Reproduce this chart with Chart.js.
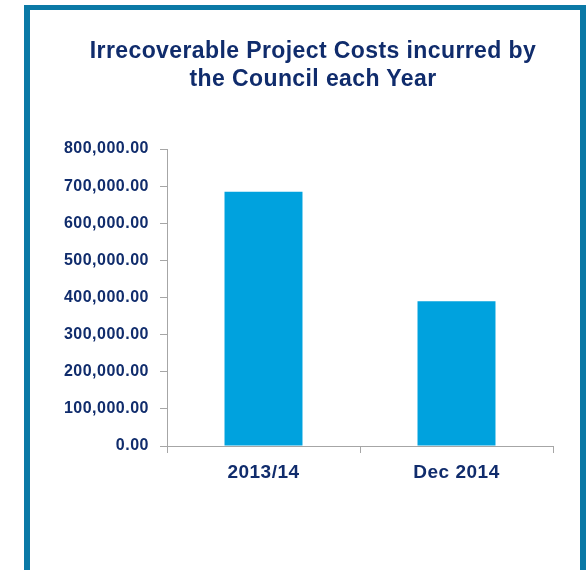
<!DOCTYPE html>
<html>
<head>
<meta charset="utf-8">
<script src="https://cdn.jsdelivr.net/npm/chart.js@4"></script>
<style>
  body { margin: 0; background: #fff; }
  #frame {
    position: absolute; left: 24px; top: 5px;
    width: 562px; height: 600px;
    box-sizing: border-box;
    border: 6px solid #0b79a6; border-top-width: 5px;
  }
  #costChart { position: absolute; left: 0; top: 0; }
  #title {
    position: absolute; left: 73px; top: 37px; width: 480px;
    text-align: center;
    font: bold 23px/27.5px 'Liberation Sans', Arial, sans-serif;
    letter-spacing: 0.4px;
    color: #102c6c;
  }
</style>
</head>
<body>
<div id="frame"></div>
<canvas id="costChart" width="588" height="570"></canvas>
<div id="title">Irrecoverable Project Costs incurred by<br>the Council each Year</div>
<script>
var categories = ['2013/14', 'Dec 2014'];
var costValues = [685000, 390000];
var yTickValues = [0, 100000, 200000, 300000, 400000, 500000, 600000, 700000, 800000];

var navy = '#102c6c';
var axisGrey = '#a6a6a6';

// the reference text looks slightly stretched, a little letter spacing helps
var spacing = {
  id: 'spacing',
  beforeLayout: function (c) { c.ctx.letterSpacing = '0.5px'; },
  beforeDraw: function (c) { c.ctx.letterSpacing = '0.5px'; }
};

var costCtx = document.getElementById('costChart').getContext('2d');
var costChart = new Chart(costCtx, {
  type: 'bar',
  data: {
    labels: categories,
    datasets: [{
      label: 'Irrecoverable Project Costs',
      data: costValues,
      backgroundColor: '#00a2de',
      borderWidth: 0,
      categoryPercentage: 1,
      barPercentage: 0.404
    }]
  },
  options: {
    responsive: false,
    animation: false,
    layout: {
      padding: { left: 40, right: 35, top: 149, bottom: 74 }
    },
    plugins: {
      legend: { display: false },
      tooltip: { enabled: false },
      title: { display: false }
    },
    scales: {
      x: {
        grid: { drawOnChartArea: false, tickLength: 7, color: axisGrey, offset: true },
        border: { color: axisGrey },
        ticks: {
          color: navy,
          padding: 8,
          font: { family: 'Liberation Sans', size: 19, weight: 'bold' }
        },
        afterFit: function (s) { s.height = 50; }
      },
      y: {
        min: 0,
        max: 800000,
        afterBuildTicks: function (s) {
          s.ticks = yTickValues.map(function (v) { return { value: v }; });
        },
        grid: { drawOnChartArea: false, tickLength: 7, color: axisGrey },
        border: { color: axisGrey },
        ticks: {
          color: navy,
          padding: 11,
          font: { family: 'Liberation Sans', size: 16, weight: 'bold' },
          callback: function (v) {
            return Number(v).toLocaleString('en-US', { minimumFractionDigits: 2, maximumFractionDigits: 2 });
          }
        },
        afterFit: function (s) { s.width = 127; }
      }
    }
  },
  plugins: [spacing]
});
</script>
</body>
</html>
